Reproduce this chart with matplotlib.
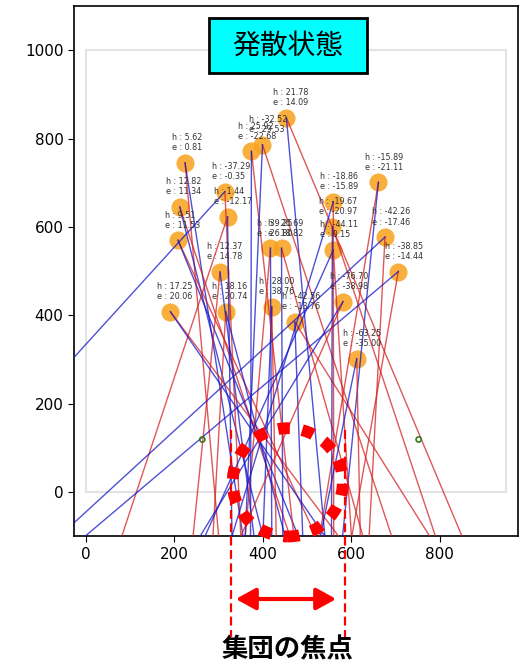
import matplotlib
matplotlib.use("Agg")
import matplotlib.pyplot as plt
from matplotlib.patches import Rectangle, Ellipse, FancyArrowPatch
from matplotlib.lines import Line2D

plt.rcParams['font.family'] = ['DejaVu Sans']
JP = ['Noto Sans CJK JP', 'DejaVu Sans']

############################ Data ##############################
# agent positions
pos_x = [224, 212, 208, 314, 320, 303, 191, 316, 420, 472, 417, 442,
         453, 374, 399, 661, 559, 557, 559, 676, 706, 581, 612]
pos_y = [745, 645, 570, 680, 623, 498, 408, 408, 419, 385, 552, 552,
         847, 771, 786, 701, 657, 600, 548, 577, 499, 431, 302]
h_vals = ["5.62", "12.82", "9.51", "-37.29", "1.44", "12.37", "17.25", "18.16",
          "28.00", "-42.56", "39.25", "20.69", "21.78", "25.92", "-32.52",
          "-15.89", "-18.86", "-19.67", "-44.11", "-42.26", "-38.85", "-76.70", "-63.25"]
e_vals = ["0.81", "11.34", "11.53", "-0.35", "-12.17", "14.78", "20.06", "20.74",
          "38.76", "-13.76", "26.80", "18.82", "14.09", "-22.68", "29.53",
          "-21.11", "-15.89", "-20.97", "0.15", "-17.46", "-14.44", "-38.98", "-35.00"]
# where each heading line leaves the plot (y = -100)
red_end_x = [300, 461, 520, 350, 81, 242, 571, 287, 430, 777, 360, 626,
             850, 470, 691, 528, 560, 790, 600, 640, 601, 350, 620]
blue_end_x = [355, 400, 480, -395, 330, 380, 540, 450, 400, 490, 420, 445,
              540, 372, 360, 580, 330, 555, 269, -60, -2, 258, 530]
end_y = -100

# goal markers
goal_x = [263, 752]
goal_y = [119, 119]

############################ Figure ##############################
fig = plt.figure(figsize=(5.23, 6.67), dpi=100)
ax = fig.add_axes([0.1415, 0.196, 0.8485, 0.795])

# field border
ax.add_patch(Rectangle((0, 0), 950, 1000, fill=False, ec='#e3e3e3', lw=1.5, zorder=0))

ax.scatter(pos_x, pos_y, s=170, color='#f9a11b', alpha=0.85, zorder=2, linewidths=0)

for i in range(len(pos_x)):
    ax.plot([pos_x[i], red_end_x[i]], [pos_y[i], end_y], color='#d42020', alpha=0.75, lw=1.0, zorder=3)
    ax.plot([pos_x[i], blue_end_x[i]], [pos_y[i], end_y], color='#1515c8', alpha=0.75, lw=1.0, zorder=3)
    ax.text(pos_x[i] - 30, pos_y[i] + 24, f"h : {h_vals[i]}\ne : {e_vals[i]}",
            fontsize=5.8, color='#333333', ha='left', va='bottom', zorder=4,
            linespacing=1.15)

ax.scatter(goal_x, goal_y, s=14, facecolors='none', edgecolors='#3a7a1a', lw=1.2, zorder=4)

ax.set_xlim(-27, 976)
ax.set_ylim(-100, 1100)
ax.set_xticks([0, 200, 400, 600, 800])
ax.set_yticks([0, 200, 400, 600, 800, 1000])
ax.tick_params(labelsize=11, length=4)
for s in ax.spines.values():
    s.set_linewidth(1.2)

# focus circle
ax.add_patch(Ellipse((456, 22), 249, 245, fill=False, ec='red', lw=8.5,
                     linestyle=(0, (1.0, 1.05)), zorder=6, clip_on=False))

############################ Overlay ##############################
W, H = 523.0, 667.0
fig.add_artist(Rectangle((209 / W, 1 - 73 / H), 158 / W, 55 / H, transform=fig.transFigure,
                         fc='#00ffff', ec='black', lw=2, zorder=10))
fig.text(288 / W, 1 - 46 / H, "発散状態", family=JP, fontsize=20, ha='center', va='center', zorder=11)

for xp in [231, 345]:
    fig.add_artist(Line2D([xp / W, xp / W], [1 - 430 / H, 1 - 637 / H], transform=fig.transFigure,
                          color='red', lw=1.6, linestyle=(0, (4, 2)), zorder=10))

fig.add_artist(FancyArrowPatch((233 / W, 1 - 599 / H), (339 / W, 1 - 599 / H), transform=fig.transFigure,
                               arrowstyle='<|-|>,head_length=1.0,head_width=0.55', mutation_scale=12,
                               color='red', lw=3, zorder=10))

fig.text(288 / W, 1 - 650 / H, "集団の焦点", family=JP, fontsize=19, fontweight='bold',
         ha='center', va='center')

plt.savefig('out.png', dpi=100)
